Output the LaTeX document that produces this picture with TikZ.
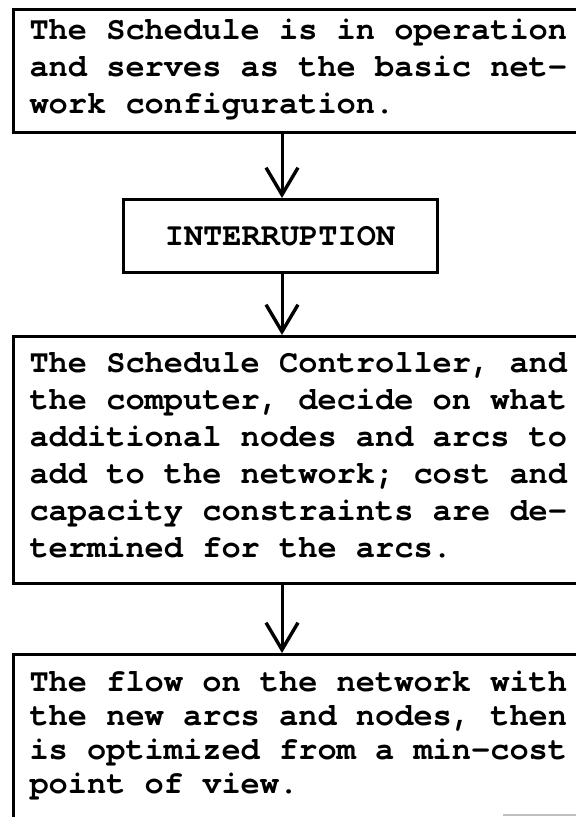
\documentclass[tikz,border=0pt]{standalone}
\usepackage{fontspec}
\newfontfamily\typewriter{texgyrecursor-bold.otf}[Ligatures=NoCommon]
\usetikzlibrary{arrows.meta}
% typewriter face with full-width, rigid word spaces
\newcommand\tapefont[1]{\typewriter\fontsize{16}{#1}\selectfont
  \fontdimen2\font=9.6pt\fontdimen3\font=0pt\fontdimen4\font=0pt}
% top-aligned text block of a given total height
\newcommand\tapetext[2]{\parbox[t][#1][t]{278pt}{\raggedright #2}}
\begin{document}
\begin{tikzpicture}[x=0.5pt,y=-0.5pt,
  box/.style={draw, line width=1.5pt, anchor=north west,
    inner xsep=8pt, inner ysep=8pt, font=\tapefont{18.5pt}},
  stepnote/.style={draw, line width=1.5pt, minimum width=157pt,
    minimum height=36.5pt, font=\tapefont{18.5pt}},
  flow/.style={line width=1.5pt,
    -{Straight Barb[length=13.5pt,width=16pt,line width=1.7pt]}}]
\useasboundingbox (0,0) rectangle (576,817);
\clip (0,0) rectangle (576,817);
\fill[white] (0,0) rectangle (576,817);
\coordinate (axis) at (282,0);

\node[box, inner ysep=5pt] (start) at (12,8)
  {\tapetext{51.5pt}{The Schedule is in operation\\and serves as the basic net-\\work configuration.}};

\node[stepnote] (halt) at (280,236) {INTERRUPTION};

\node[box] (decide) at (12,335)
  {\tapetext{107.5pt}{The Schedule Controller, and\\the computer, decide on what\\additional nodes and arcs to\\add to the network; cost and\\capacity constraints are de-\\termined for the arcs.}};

% the last box runs on past the lower edge
\node[box, inner ysep=8.5pt, font=\tapefont{17pt}] (optimize) at (12,653)
  {\tapetext{100pt}{The flow on the network with\\the new arcs and nodes, then\\is optimized from a min-cost\\point of view.}};

\draw[flow] (start.south -| axis) -- (halt.north -| axis);
\draw[flow] (halt.south -| axis) -- (decide.north -| axis);
\draw[flow] (decide.south -| axis) -- (optimize.north -| axis);

% faint rule at the lower right edge
\draw[gray!50, line width=0.8pt] (503,815) -- (576,815);
\end{tikzpicture}
\end{document}
